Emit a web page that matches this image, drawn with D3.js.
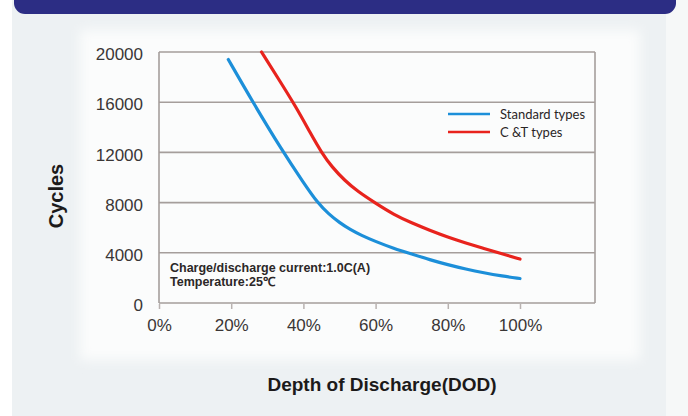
<!DOCTYPE html>
<html>
<head>
<meta charset="utf-8">
<script src="https://cdn.jsdelivr.net/npm/d3@7"></script>
<style>
  html, body { margin: 0; padding: 0; background: #ffffff; }
  svg { display: block; }
</style>
</head>
<body>
<svg id="chart" width="688" height="416"></svg>
<script>
// Cycle life versus depth of discharge
const dodTicks = [0, 20, 40, 60, 80, 100];
const cycleTicks = [0, 4000, 8000, 12000, 16000, 20000];

const standardDod    = [19.2, 26, 34, 40, 44, 47, 50, 53, 56, 60, 65, 70, 75, 80, 85, 90, 95, 100];
const standardCycles = [19400, 16000, 12200, 9600, 7950, 7100, 6400, 5850, 5400, 4900, 4350, 3900, 3450, 3050, 2700, 2400, 2150, 1950];

const ctDod    = [28.4, 33, 38, 42, 45, 48, 51.5, 55, 60, 65, 70, 75, 80, 85, 90, 95, 100];
const ctCycles = [20000, 17900, 15600, 13500, 12000, 10800, 9750, 8900, 7950, 7050, 6380, 5800, 5250, 4780, 4350, 3920, 3500];

const seriesNames = ["Standard types", "C &T types"];
const seriesColors = ["#1c8fd9", "#e8231d"];

const noteLines = ["Charge/discharge current:1.0C(A)", "Temperature:25\u2103"];

const svg = d3.select("#chart");
const defs = svg.append("defs");
defs.append("filter").attr("id", "soft")
  .attr("x", "-10%").attr("y", "-10%").attr("width", "120%").attr("height", "120%")
  .append("feGaussianBlur").attr("stdDeviation", 6);

// page background panels
svg.append("rect").attr("x", 12).attr("y", 0).attr("width", 664).attr("height", 416).attr("fill", "#edf1f3");
svg.append("rect").attr("x", 666).attr("y", 0).attr("width", 22).attr("height", 416).attr("fill", "#f6f8f8");
svg.append("rect").attr("x", 80).attr("y", 30).attr("width", 560).attr("height", 330)
  .attr("fill", "#fbfcfc").attr("filter", "url(#soft)");
// header band
svg.append("rect").attr("x", 14).attr("y", -20).attr("width", 662).attr("height", 34)
  .attr("rx", 11).attr("fill", "#2c2d84");

const plot = { left: 159, right: 595, top: 52, bottom: 303 };
const x = d3.scaleLinear().domain([0, 100]).range([159, 520]);
const y = d3.scaleLinear().domain([0, 20000]).range([plot.bottom, plot.top]);

const gridColor = "#a59e9b";

// horizontal grid lines
svg.append("g").selectAll("line").data(cycleTicks).join("line")
  .attr("x1", plot.left).attr("x2", plot.right)
  .attr("y1", d => y(d)).attr("y2", d => y(d))
  .attr("stroke", gridColor).attr("stroke-width", 1.6);

// frame sides
svg.append("line").attr("x1", plot.left).attr("x2", plot.left)
  .attr("y1", plot.top).attr("y2", plot.bottom).attr("stroke", gridColor).attr("stroke-width", 1.6);
svg.append("line").attr("x1", plot.right).attr("x2", plot.right)
  .attr("y1", plot.top).attr("y2", plot.bottom).attr("stroke", gridColor).attr("stroke-width", 1.6);

// x axis
const xAxis = d3.axisBottom(x).tickValues(dodTicks).tickFormat(d => d + "%").tickSize(5).tickPadding(10);
const gx = svg.append("g").attr("transform", `translate(0,${plot.bottom + 1})`).call(xAxis);
gx.select(".domain").remove();
gx.selectAll(".tick line").attr("stroke", "#b8b2b0").attr("stroke-width", 1.5);
gx.selectAll(".tick text")
  .attr("font-family", "'Liberation Sans', Arial, sans-serif")
  .attr("font-size", 17).attr("fill", "#3a3636");

// y axis
const yAxis = d3.axisLeft(y).tickValues(cycleTicks).tickFormat(d3.format("d")).tickSize(0).tickPadding(16);
const gy = svg.append("g").attr("transform", `translate(${plot.left},0)`).call(yAxis);
gy.select(".domain").remove();
gy.selectAll(".tick text")
  .attr("font-family", "'Liberation Sans', Arial, sans-serif")
  .attr("font-size", 17).attr("fill", "#3a3636").attr("dy", "0.45em");

// curves
const line = d3.line().x(d => x(d[0])).y(d => y(d[1])).curve(d3.curveBasis);
const series = [
  d3.zip(standardDod, standardCycles),
  d3.zip(ctDod, ctCycles)
];
svg.append("g").selectAll("path").data(series).join("path")
  .attr("d", line)
  .attr("fill", "none")
  .attr("stroke", (d, i) => seriesColors[i])
  .attr("stroke-width", 3.2)
  .attr("stroke-linecap", "round")
  .attr("stroke-linejoin", "round");

// legend
const legend = svg.append("g").selectAll("g").data(seriesNames).join("g")
  .attr("transform", (d, i) => `translate(448,${114 + i * 18})`);
legend.append("line").attr("x1", 0).attr("x2", 42)
  .attr("stroke", (d, i) => seriesColors[i]).attr("stroke-width", 2.6);
legend.append("text").attr("x", 52).attr("dy", "0.35em")
  .attr("font-family", "Lato, sans-serif").attr("font-size", 13)
  .attr("fill", "#2a2626").text(d => d);

// test conditions note
svg.append("g").selectAll("text").data(noteLines).join("text")
  .attr("x", 170).attr("y", (d, i) => 272 + i * 13.5)
  .attr("font-family", "'Liberation Sans', Arial, sans-serif")
  .attr("font-weight", "bold").attr("font-size", 12.5)
  .attr("fill", "#2b2727").text(d => d);

// axis titles
svg.append("text")
  .attr("transform", "translate(63,196) rotate(-90)")
  .attr("text-anchor", "middle")
  .attr("font-family", "'Liberation Sans', Arial, sans-serif")
  .attr("font-weight", "bold").attr("font-size", 20)
  .attr("fill", "#1c1a1a").text("Cycles");

svg.append("text")
  .attr("x", 382).attr("y", 391)
  .attr("text-anchor", "middle")
  .attr("font-family", "'Liberation Sans', Arial, sans-serif")
  .attr("font-weight", "bold").attr("font-size", 19)
  .attr("fill", "#1c1a1a").text("Depth of Discharge(DOD)");
</script>
</body>
</html>
